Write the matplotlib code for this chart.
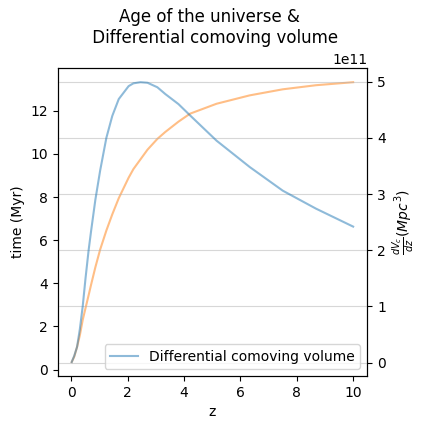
"""
Age of the universe & differential comoving volume
"""

import matplotlib.pyplot as plt

# redshift samples
z = [0.01, 0.1, 0.2, 0.3, 0.4, 0.5, 0.61, 0.7, 0.85, 1.02, 1.24, 1.45,
     1.68, 2.03, 2.2, 2.45, 2.7, 3.05, 3.33, 3.8, 4.21, 5.15, 6.33, 7.5,
     8.68, 10.0]

# lookback time (left axis)
time_myr = [0.35, 0.6, 1.05, 1.6, 2.3, 2.85, 3.45, 3.95, 4.75, 5.57, 6.45,
            7.2, 7.95, 8.9, 9.3, 9.75, 10.2, 10.7, 11.02, 11.5, 11.87, 12.33,
            12.72, 13.0, 13.19, 13.33]

# differential comoving volume, Mpc^3 (right axis)
dvc_dz = [0.01e11, 0.12e11, 0.28e11, 0.6e11, 1.0e11, 1.5e11, 2.0e11,
          2.35e11, 2.9e11, 3.42e11, 4.0e11, 4.39e11, 4.69e11, 4.92e11,
          4.97e11, 4.99e11, 4.98e11, 4.9e11, 4.78e11, 4.6e11, 4.4e11,
          3.95e11, 3.48e11, 3.06e11, 2.74e11, 2.42e11]

fig = plt.figure(figsize=(4.27, 4.29), dpi=100)
ax = fig.add_axes([0.135, 0.1235, 0.725, 0.7175])

ax.plot(z, time_myr, color="C1", alpha=0.5)
ax.set_xlabel("z")
ax.set_ylabel("time (Myr)")

ax2 = ax.twinx()
ax2.plot(z, dvc_dz, color="C0", alpha=0.5, label="Differential comoving volume")
ax2.set_ylabel(r"$\frac{dV_c}{dz} (Mpc^3)$")
ax2.grid(True, alpha=0.5)
ax2.legend(loc="lower right")

ax.set_title("Age of the universe & \n Differential comoving volume", pad=18)

fig.savefig("out.png", dpi=100)
